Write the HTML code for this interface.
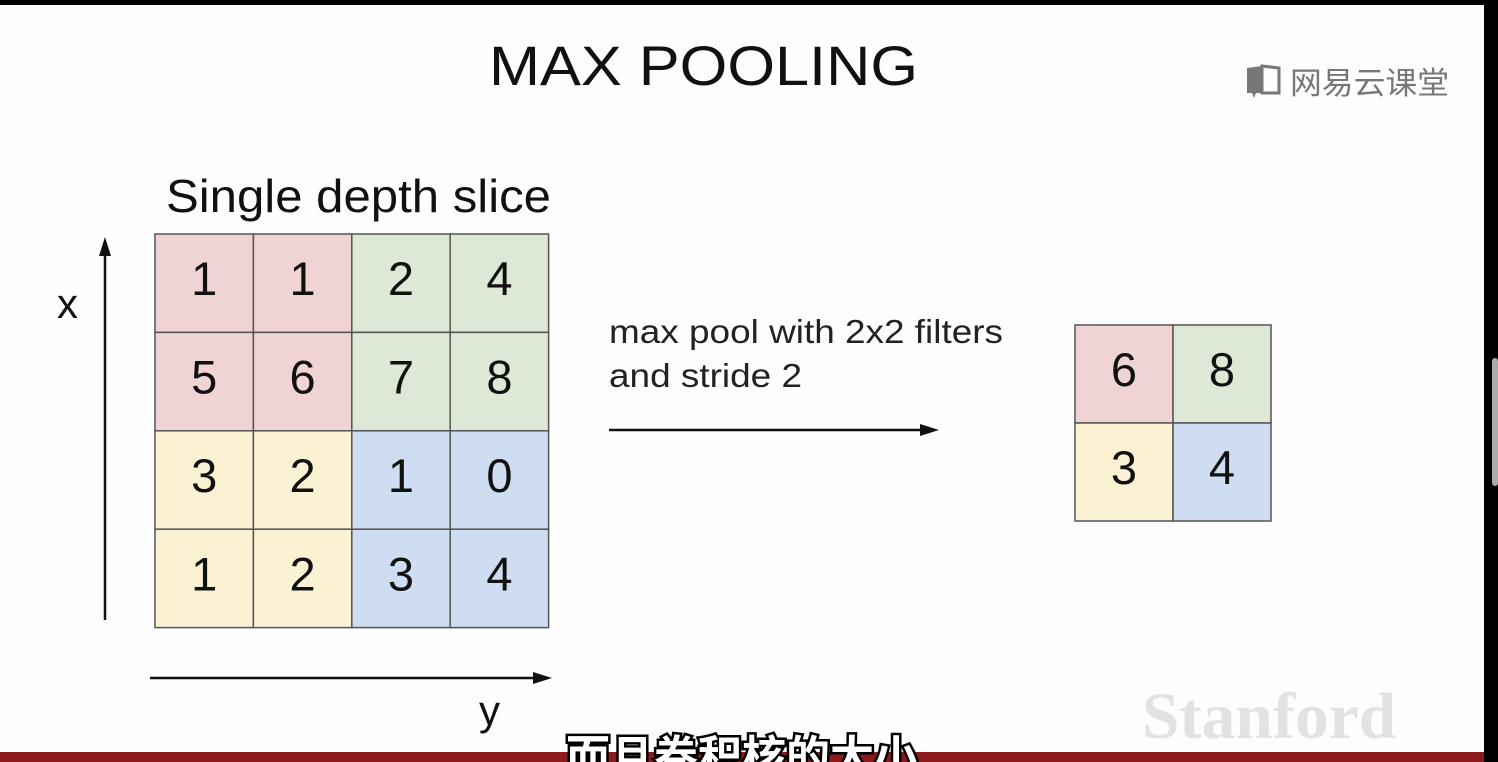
<!DOCTYPE html>
<html><head><meta charset="utf-8"><style>
html,body{margin:0;padding:0;width:1498px;height:762px;overflow:hidden;background:#fff}
svg{display:block}
text{font-family:"Liberation Sans","Noto Sans CJK SC",sans-serif}
</style></head><body>
<svg width="1498" height="762" viewBox="0 0 1498 762">
<rect x="0" y="0" width="1498" height="762" fill="#fdfdfd"/>
<rect x="0" y="0" width="1498" height="5" fill="#000"/>
<rect x="1484" y="0" width="14" height="762" fill="#000"/>
<rect x="1492" y="358" width="6" height="128" rx="3" fill="#aaa"/>
<rect x="0" y="752" width="1484" height="10" fill="#8c1a1a"/>
<text x="489" y="85" font-size="56" textLength="429" lengthAdjust="spacingAndGlyphs" fill="#111">MAX POOLING</text>
<g>
<path d="M1247 68 L1262 66 L1262 93 L1256 93 L1254 98 L1252 93 L1247 93 Z" fill="#777"/>
<path d="M1262 66 L1279 68 L1279 93 L1262 93 Z" fill="none" stroke="#777" stroke-width="3"/>
<text x="1290" y="94" font-size="31" textLength="159" lengthAdjust="spacingAndGlyphs" fill="#777">网易云课堂</text>
</g>
<text x="166" y="212" font-size="46" textLength="385" lengthAdjust="spacingAndGlyphs" fill="#111">Single depth slice</text>
<text x="57" y="318" font-size="42" fill="#111">x</text>
<line x1="105" y1="620" x2="105" y2="252" stroke="#111" stroke-width="2.5"/>
<polygon points="105,237 99,256 111,256" fill="#111"/>
<line x1="150" y1="678" x2="536" y2="678" stroke="#111" stroke-width="2.5"/>
<polygon points="552,678 533,672 533,684" fill="#111"/>
<text x="479" y="725" font-size="42" fill="#111">y</text>
<g id="input-grid"></g>
<text x="609" y="343" font-size="33" textLength="394" lengthAdjust="spacingAndGlyphs" fill="#222">max pool with 2x2 filters</text>
<text x="609" y="387" font-size="33" textLength="193" lengthAdjust="spacingAndGlyphs" fill="#222">and stride 2</text>
<line x1="609" y1="430" x2="924" y2="430" stroke="#111" stroke-width="2.5"/>
<polygon points="939,430 920,424 920,436" fill="#111"/>
<g id="output-grid"></g>
<text x="1142" y="738" font-size="66" textLength="254" lengthAdjust="spacingAndGlyphs" font-weight="bold" fill="#e2e2e2" style="font-family:'Liberation Serif',serif">Stanford</text>
<text x="742" y="772" font-size="44" font-weight="bold" fill="#fff" stroke="#000" stroke-width="5" paint-order="stroke" text-anchor="middle">而且卷积核的大小</text>
</svg>
<script>
const inputValues = [[1,1,2,4],[5,6,7,8],[3,2,1,0],[1,2,3,4]];
const inputRegions = [[0,0,1,1],[0,0,1,1],[2,2,3,3],[2,2,3,3]];
const outputValues = [[6,8],[3,4]];
const outputRegions = [[0,1],[2,3]];
const regionColors = ['#f0d4d4','#dde8d6','#fbf2d4','#cfddf2'];
const NS='http://www.w3.org/2000/svg';
function drawGrid(gid, vals, regs, x0, y0, cs){
  const g=document.getElementById(gid);
  vals.forEach((row,r)=>row.forEach((v,c)=>{
    const rect=document.createElementNS(NS,'rect');
    rect.setAttribute('x',x0+c*cs);rect.setAttribute('y',y0+r*cs);
    rect.setAttribute('width',cs);rect.setAttribute('height',cs);
    rect.setAttribute('fill',regionColors[regs[r][c]]);
    rect.setAttribute('stroke','#555');rect.setAttribute('stroke-width','1.5');
    
    
    g.appendChild(rect);
    const t=document.createElementNS(NS,'text');
    t.setAttribute('x',x0+c*cs+cs/2);t.setAttribute('y',y0+r*cs+cs/2+12);
    t.setAttribute('text-anchor','middle');t.setAttribute('font-size','47');t.setAttribute('fill','#111');
    t.textContent=v;
    
    
    g.appendChild(t);
  }));
}
drawGrid('input-grid',inputValues,inputRegions,155,234,98.4);
drawGrid('output-grid',outputValues,outputRegions,1075,325,98);
</script>
</body></html>
